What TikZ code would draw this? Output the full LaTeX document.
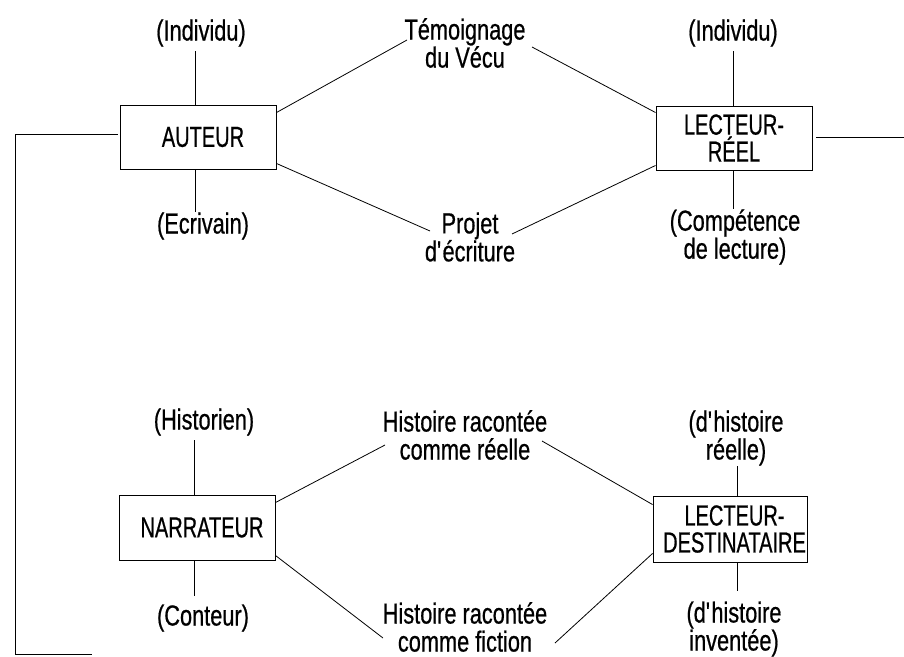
\documentclass[tikz,border=0pt]{standalone}
\usepackage{fontspec}
\setmainfont{Liberation Sans}[FakeStretch=0.75,FakeBold=0.6]
\newfontfamily\capsfont{Liberation Sans}[FakeStretch=0.69,FakeBold=0.6]
\usetikzlibrary{calc}
\begin{document}
\begin{tikzpicture}[x=1pt,y=-1pt,
  box/.style={draw,line width=0.9pt,minimum width=156pt,minimum height=64pt,inner sep=0pt,align=center,font=\capsfont\fontsize{29}{27}\selectfont},
  lbl/.style={inner sep=0pt,align=center,font=\fontsize{29}{28}\selectfont},
  conn/.style={line width=0.8pt}]
\useasboundingbox (0,0) rectangle (904,656);
% boxes
\node[box] (auteur) at (198,137) {\hspace*{10pt}AUTEUR};
\node[box] (lecteurR) at (734,138) {LECTEUR-\\RÉEL};
\node[box,minimum height=65pt] (narr) at (197,527.5) {\hspace*{10pt}NARRATEUR};
\node[box,minimum width=154pt,minimum height=66pt] (lecteurD) at (730,529) {\hspace*{9pt}LECTEUR-\\\hspace*{9pt}DESTINATAIRE};
% labels
\node[lbl] (indiv1) at (201,33) {(Individu)};
\node[lbl] (indiv2) at (733,33) {(Individu)};
\node[lbl] (ecriv) at (203,226) {(Ecrivain)};
\node[lbl] (compet) at (735,237) {(Compétence\\de lecture)};
\node[lbl] (temoin) at (465,43) {Témoignage\\du Vécu};
\node[lbl] (projet) at (470,237) {Projet\\d\textquotesingle écriture};
\node[lbl] (histn) at (204,422) {(Historien)};
\node[lbl] (conteur) at (203,618) {(Conteur)};
\node[lbl] (dhr) at (736,438) {(d\textquotesingle histoire\\réelle)};
\node[lbl] (dhi) at (734,629) {(d\textquotesingle histoire\\inventée)};
\node[lbl] (hr) at (465,435) {Histoire racontée\\comme réelle};
\node[lbl] (hf) at (465,627) {Histoire racontée\\comme fiction};
% vertical connectors
\draw[conn] ($(auteur.north)+(-3,0)$) -- ($(auteur.north |- indiv1.south)+(-3,4)$);
\draw[conn] ($(auteur.south)+(-3,0)$) -- ($(auteur.south |- ecriv.north)+(-3,0)$);
\draw[conn] ($(lecteurR.north)+(-1,0)$) -- ($(lecteurR.north |- indiv2.south)+(-1,4)$);
\draw[conn] ($(lecteurR.south)+(-1,0)$) -- ($(lecteurR.south |- compet.north)+(-1,0)$);
\draw[conn] ($(narr.north)+(-3,0)$) -- ($(narr.north |- histn.south)+(-3,4)$);
\draw[conn] ($(narr.south)+(-3,0)$) -- ($(narr.south |- conteur.north)+(-3,-8)$);
\draw[conn] ($(lecteurD.north)+(7,0)$) -- ($(lecteurD.north |- dhr.south)+(7,0)$);
\draw[conn] ($(lecteurD.south)+(7,0)$) -- ($(lecteurD.south |- dhi.north)+(7,-10)$);
% diagonal connectors
\draw[conn] ($(auteur.north east)+(0,8)$) -- ($(temoin.center)+(-58,-3)$);
\draw[conn] ($(temoin.center)+(67,4)$) -- ($(lecteurR.north west)+(0,7)$);
\draw[conn] ($(auteur.south east)+(0,-6)$) -- ($(projet.center)+(-40,-6)$);
\draw[conn] ($(projet.center)+(42,-3)$) -- ($(lecteurR.south west)+(0,-5)$);
\draw[conn] ($(narr.north east)+(0,8)$) -- ($(hr.center)+(-80,10)$);
\draw[conn] ($(hr.center)+(77,6)$) -- ($(lecteurD.north west)+(0,9)$);
\draw[conn] ($(narr.south east)+(0,-5)$) -- ($(hf.center)+(-82,11)$);
\draw[conn] ($(hf.center)+(90,16)$) -- ($(lecteurD.south west)+(0,-9)$);
% outer lines
\coordinate (rend) at (904,137);
\draw[conn] ($(lecteurR.east)+(4,-1)$) -- (rend);
\coordinate (lcorner) at (15,654);
\coordinate (lend) at (92,654);
\draw[conn] ($(auteur.west)+(-2,-3)$) -| (lcorner) -- (lend);
\end{tikzpicture}
\end{document}
